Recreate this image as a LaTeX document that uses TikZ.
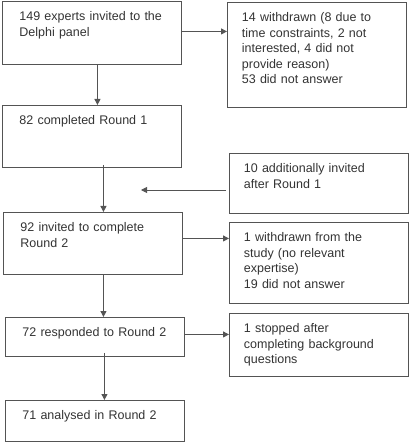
\documentclass[tikz,border=0pt]{standalone}
\usepackage{fontspec}
\setmainfont{Liberation Sans}
\usepackage{xcolor}
\usetikzlibrary{positioning, arrows.meta}
\definecolor{linegray}{gray}{0.33}
\definecolor{textgray}{gray}{0.2}

\begin{document}
\begin{tikzpicture}[x=1pt, y=-1pt,
		box/.style={draw=linegray, line width=0.9pt, text=textgray, anchor=north west, align=left,
			inner ysep=0pt, text height=19.5pt, font=\fontsize{12.5}{15.5}\selectfont},
		leftbox/.style={box, inner xsep=17pt, text width=145pt},
		rightbox/.style={box, inner xsep=14.5pt, text width=150pt},
		arr/.style={draw=linegray, line width=0.9pt, -{Triangle[length=6pt, width=6pt]}}]
			\useasboundingbox (0,0) rectangle (412,443);
			
			% caixas da esquerda
			\node[leftbox, text depth=43.5pt] (invited) at (2,1) {149 experts invited to the\\Delphi panel};
			\node[leftbox, text depth=42.5pt] (round1) at (2,105) {82 completed Round 1};
			\node[leftbox, text depth=42.5pt] (invited2) at (3,212) {92 invited to complete\\Round 2};
			\node[leftbox, text depth=19.5pt] (responded) at (5,317) {72 responded to Round 2};
			\node[leftbox, text depth=21.5pt] (analysed) at (5,400) {71 analysed in Round 2};
			
			% caixas da direita
			\node[rightbox, text depth=85.5pt] (withdrawn) at (227,2) {14 withdrawn (8 due to\\time constraints, 2 not\\interested, 4 did not\\provide reason)\\53 did not answer};
			\node[rightbox, text depth=40.5pt] (additional) at (229,153) {10 additionally invited\\after Round 1};
			\node[rightbox, text depth=61.5pt] (withdrawn2) at (229,222) {1 withdrawn from the\\study (no relevant\\expertise)\\19 did not answer};
			\node[rightbox, text depth=43.5pt] (stopped) at (229,313) {1 stopped after\\completing background\\questions};
			
			% setas verticais
			\draw[arr] ([xshift=5.5pt]invited.south) -- ([xshift=5.5pt]invited.south |- round1.north);
			\draw[arr] ([xshift=11.5pt,yshift=3pt]round1.south) -- ([xshift=11.5pt]round1.south |- invited2.north);
			\draw[arr] ([xshift=10.5pt]invited2.south) -- ([xshift=10.5pt]invited2.south |- responded.north);
			\draw[arr] ([xshift=9.5pt,yshift=4pt]responded.south) -- ([xshift=9.5pt]responded.south |- analysed.north);
			
			% setas horizontais
			\coordinate (join) at (141,190);
			\draw[arr] ([yshift=1.5pt]invited.east) -- ([yshift=1.5pt]invited.east -| withdrawn.west);
			\draw[arr] ([xshift=-3pt]additional.west |- join) -- (join);
			\draw[arr] ([yshift=5pt]invited2.east) -- ([yshift=5pt]invited2.east -| withdrawn2.west);
			\draw[arr] ([yshift=2.5pt]responded.east) -- ([yshift=2.5pt]responded.east -| stopped.west);
		\end{tikzpicture}
\end{document}
